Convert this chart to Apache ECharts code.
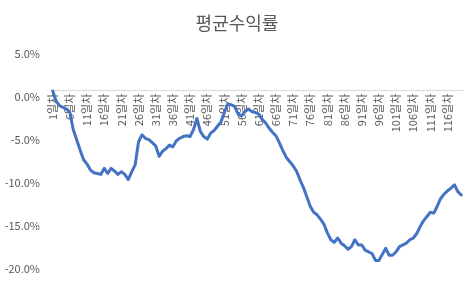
<!DOCTYPE html>
<html>
<head>
<meta charset="utf-8">
<script src="https://cdn.jsdelivr.net/npm/echarts@6/dist/echarts.min.js"></script>
<style>html,body{margin:0;padding:0;background:#fff;}#c{width:474px;height:282px;}</style>
</head>
<body>
<div id="c"></div>
<script>
const title = '평균수익률';
const days = [];
for (let d = 1; d <= 120; d++) days.push(d + '일차');
const avgReturn = [
  0.7, -0.5, -1.0, -1.2, -1.4, -1.8, -3.8, -5.0, -6.2, -7.3,
  -7.8, -8.5, -8.8, -8.9, -9.0, -8.3, -8.9, -8.3, -8.6, -9.0,
  -8.7, -9.0, -9.6, -8.7, -7.9, -5.2, -4.4, -4.8, -4.95, -5.3,
  -5.7, -6.9, -6.3, -6.0, -5.6, -5.8, -5.1, -4.8, -4.6, -4.5,
  -4.6, -3.8, -2.5, -4.0, -4.6, -4.9, -4.2, -3.9, -3.4, -2.9,
  -1.8, -0.8, -0.9, -1.1, -2.0, -2.2, -1.7, -1.4, -1.7, -1.8,
  -2.0, -2.6, -3.0, -3.6, -4.1, -4.5, -5.3, -6.2, -7.0, -7.5,
  -8.0, -8.6, -9.6, -10.5, -11.6, -12.7, -13.4, -13.7, -14.2, -14.8,
  -15.8, -16.6, -16.9, -16.4, -17.0, -17.3, -17.7, -17.4, -16.6, -17.2,
  -17.2, -17.8, -18.0, -18.2, -19.0, -19.0, -18.3, -17.6, -18.4, -18.4,
  -18.0, -17.4, -17.2, -17.0, -16.6, -16.4, -15.9, -15.1, -14.4, -13.9,
  -13.4, -13.5, -12.7, -11.8, -11.3, -10.9, -10.6, -10.2, -11.0, -11.4
];
const yMin = -20, yMax = 5, yStep = 5;

const W = 474, H = 282;
const gridTop = 54, gridBottom = 13;
const chart = echarts.init(document.getElementById('c'));
const font = '"Noto Sans CJK KR", "Noto Sans", sans-serif';
chart.setOption({
  animation: false,
  title: {
    text: title, left: 'center', top: 9,
    textStyle: { fontFamily: font, fontSize: 18, fontWeight: 'normal', color: '#595959' }
  },
  grid: { left: 51, right: 11, top: gridTop, bottom: gridBottom, containLabel: false },
  xAxis: {
    type: 'category', data: days, boundaryGap: true, position: 'bottom', offset: 0,
    axisLine: { onZero: false, lineStyle: { color: '#d9d9d9', width: 1 } },
    axisTick: { show: false },
    axisLabel: { interval: 4, rotate: 90, margin: 3, fontSize: 11, color: '#595959', fontFamily: font }
  },
  yAxis: {
    type: 'value', min: yMin, max: yMax, interval: yStep,
    axisLine: { show: false }, axisTick: { show: false },
    splitLine: { show: false },
    axisLabel: { formatter: v => v.toFixed(1) + '%', fontSize: 11, color: '#595959', margin: 11, fontFamily: font }
  },
  series: [{
    type: 'line', data: avgReturn, showSymbol: false, symbol: 'none',
    lineStyle: { color: '#4472C4', width: 3, cap: 'round', join: 'round' },
    itemStyle: { color: '#4472C4' }
  }]
});
// move the category axis (line + labels) up to the zero line
const zeroY = chart.convertToPixel({ yAxisIndex: 0 }, 0);
const bottomY = H - gridBottom;
chart.setOption({ xAxis: { offset: -(bottomY - zeroY) } });
</script>
</body>
</html>
